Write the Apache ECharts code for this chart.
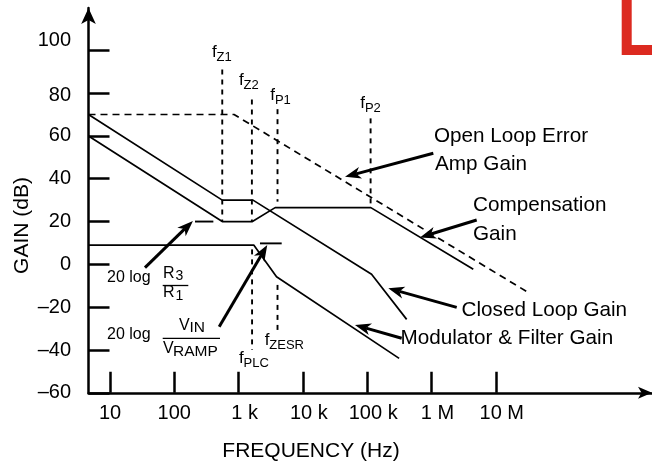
<!DOCTYPE html>
<html><head><meta charset="utf-8">
<script src="https://cdn.jsdelivr.net/npm/echarts@6/dist/echarts.min.js"></script>
<style>html,body{margin:0;padding:0;background:#fff}#c{width:652px;height:464px}</style>
</head><body><div id="c"></div>
<script>
// ---- axis ticks ----
const xTicks = [10, 100, 1e3, 1e4, 1e5, 1e6, 1e7];
const xTickLabels = ['10', '100', '1 k', '10 k', '100 k', '1 M', '10 M'];
const yTicks = [-60, -40, -20, 0, 20, 40, 60, 80, 100];
const yTickLabels = ['\u201360', '\u201340', '\u201320', '0', '20', '40', '60', '80', '100'];

// ---- curves (frequency in Hz, gain in dB) ----
const compFreq = [4.63, 557, 1640, 3700, 114000, 4470000];
const compGain = [60, 20, 20, 26.5, 26.5, -2.3];
const closedFreq = [4.63, 557, 1675, 117000, 411000];
const closedGain = [70, 30, 30, -4.6, -25.7];
const modFreq = [4.63, 1720, 3890, 314000];
const modGain = [9, 9, -5.8, -43.9];
const openFreq = [4.63, 850, 33900000];
const openGain = [70, 70, -13.6];
// short level markers
const r3r1Freq = [210, 405];
const r3r1Gain = [20, 20];
const vinFreq = [2150, 4680];
const vinGain = [9.8, 9.8];
// corner-frequency markers: [freq, topGain, bottomGain]
const markerNames = ['Z1', 'Z2', 'P1', 'P2', 'PLC', 'ZESR'];
const markerFreq = [557, 1610, 4030, 113000, 1620, 4030];
const markerTop = [91, 77, 72.5, 68.2, 7, -9.6];
const markerBottom = [20, 20, 29.3, 28.5, -40, -30.7];
// annotation arrows: tail -> tip
const arrowTailFreq = [35, 499, 1.067e6, 5.05e6, 2.47e6, 3.44e5];
const arrowTailGain = [-1.5, -29.1, 51.9, 20.7, -20.1, -34.5];
const arrowTipFreq = [195, 2790, 45200, 6.62e5, 2.13e5, 6.46e4];
const arrowTipGain = [20.3, 9, 40.9, 12.6, -11.2, -28.3];

const FONT = '"Liberation Sans", Arial, Helvetica, sans-serif';
const zip = (a, b) => a.map((v, i) => [v, b[i]]);

const chart = echarts.init(document.getElementById('c'), null, {renderer: 'canvas'});

function line(name, data, extra) {
  return Object.assign({
    name, type: 'line', data, symbol: 'none', silent: true,
    lineStyle: {color: '#000', width: 1.7}, z: 3, clip: false
  }, extra || {});
}

const series = [
  line('Compensation Gain', zip(compFreq, compGain)),
  line('Closed Loop Gain', zip(closedFreq, closedGain)),
  line('Modulator & Filter Gain', zip(modFreq, modGain)),
  line('Open Loop Error Amp Gain', zip(openFreq, openGain), {lineStyle: {color: '#000', width: 1.7, type: [7, 5]}}),
  line('R3/R1', zip(r3r1Freq, r3r1Gain), {lineStyle: {color: '#000', width: 1.9}}),
  line('VIN/VRAMP', zip(vinFreq, vinGain), {lineStyle: {color: '#000', width: 1.9}})
];
markerNames.forEach((n, i) => {
  series.push(line('f' + n, [[markerFreq[i], markerTop[i]], [markerFreq[i], markerBottom[i]]],
    {lineStyle: {color: '#000', width: 1.9, type: [5, 5]}}));
});

const option = {
  animation: false,
  backgroundColor: '#fff',
  grid: {left: 88.5, right: 0, top: 8, bottom: 71.2},
  xAxis: {
    type: 'log', logBase: 10, min: 4.63, max: 2.69e9,
    axisLine: {show: true, onZero: false, symbol: ['none', 'arrow'], symbolSize: [9, 14],
      lineStyle: {color: '#000', width: 2.5}},
    axisTick: {show: true, inside: true, length: 21, customValues: xTicks,
      lineStyle: {color: '#000', width: 2.5}},
    minorTick: {show: false},
    axisLabel: {
      customValues: xTicks, margin: 11, fontSize: 20, color: '#000', fontFamily: FONT,
      formatter: function (v) {
        const i = Math.round(Math.log10(v)) - 1;
        const s = xTickLabels[i] || '';
        return s.indexOf(' ') >= 0 ? '{k|' + s + '}' : '{n|' + s + '}';
      },
      rich: {
        k: {fontSize: 20, fontFamily: FONT, color: '#000', padding: [0, 0, 0, 12]},
        n: {fontSize: 20, fontFamily: FONT, color: '#000'}
      }
    },
    splitLine: {show: false}
  },
  yAxis: {
    type: 'value', min: -60, max: 119.76,
    axisLine: {show: true, onZero: false, symbol: ['none', 'arrow'], symbolSize: [11, 16],
      lineStyle: {color: '#000', width: 2.5}},
    axisTick: {show: true, inside: true, length: 21, customValues: yTicks,
      lineStyle: {color: '#000', width: 2.5}},
    axisLabel: {
      customValues: yTicks, margin: 17.5, fontSize: 20, color: '#000', fontFamily: FONT,
      formatter: function (v) {
        const i = yTicks.indexOf(Math.round(v));
        const s = yTickLabels[i];
        if (s === '100') return '{u|' + s + '}';
        if (s === '80') return '{d|' + s + '}';
        return '{n|' + s + '}';
      },
      rich: {
        u: {fontSize: 20, fontFamily: FONT, color: '#000', padding: [0, 0, 20, 0]},
        d: {fontSize: 20, fontFamily: FONT, color: '#000', padding: [4, 0, 0, 0]},
        n: {fontSize: 20, fontFamily: FONT, color: '#000'}
      }
    },
    splitLine: {show: false}
  },
  series
};
chart.setOption(option);

// ---------- annotations ----------
const px = (f, g) => chart.convertToPixel({xAxisIndex: 0, yAxisIndex: 0}, [f, g]);
function txt(x, baseline, str, size, extra) {
  return Object.assign({
    type: 'text', x: x, y: baseline - 0.3465 * size, z: 10,
    style: {text: str, fontSize: size, fontFamily: FONT, fill: '#000', align: 'left', verticalAlign: 'middle'}
  }, extra || {});
}
function arrow(i) {
  const a = px(arrowTailFreq[i], arrowTailGain[i]);
  const b = px(arrowTipFreq[i], arrowTipGain[i]);
  const dx = b[0] - a[0], dy = b[1] - a[1];
  const len = Math.hypot(dx, dy), ux = dx / len, uy = dy / len, nx = -uy, ny = ux;
  const L = 16, W = 6;
  const base = [b[0] - ux * L, b[1] - uy * L];
  const notch = [b[0] - ux * L * 0.72, b[1] - uy * L * 0.72];
  return [
    {type: 'line', z: 10, shape: {x1: a[0], y1: a[1], x2: notch[0], y2: notch[1]},
      style: {stroke: '#000', lineWidth: 3}},
    {type: 'polygon', z: 10, shape: {points: [b, [base[0] + nx * W, base[1] + ny * W], notch, [base[0] - nx * W, base[1] - ny * W]]},
      style: {fill: '#000'}}
  ];
}

const g = [];
for (let i = 0; i < arrowTailFreq.length; i++) g.push(...arrow(i));

// big annotations
const A = 20.7;
g.push(txt(434, 143.3, 'Open Loop Error', A));
g.push(txt(435, 171.7, 'Amp Gain', A));
g.push(txt(473, 212.3, 'Compensation', A));
g.push(txt(473, 241.7, 'Gain', A));
g.push(txt(461.5, 317.3, 'Closed Loop Gain', A));
g.push(txt(400.5, 345, 'Modulator & Filter Gain', A));

// corner frequency labels: f + subscript
const fLab = [
  [212, 58.3, 'Z1'], [239, 86.7, 'Z2'], [270.3, 101.7, 'P1'], [360.3, 109.3, 'P2'],
  [239, 364.5, 'PLC'], [264.7, 346.7, 'ZESR']
];
fLab.forEach(([x, bl, s]) => {
  g.push(txt(x, bl, 'f', 17));
  g.push(txt(x + 4.6, bl + 3.2, s, 13));
});

// 20 log R3/R1
g.push(txt(107, 283.3, '20 log', 16));
g.push(txt(163, 279, 'R', 16));
g.push(txt(175.5, 281.2, '3', 14));
g.push({type: 'line', z: 10, shape: {x1: 162.7, y1: 285.5, x2: 188.3, y2: 285.5}, style: {stroke: '#000', lineWidth: 1.3}});
g.push(txt(163, 298.3, 'R', 16));
g.push(txt(175.5, 300.5, '1', 14));
// 20 log VIN/VRAMP
g.push(txt(107, 340, '20 log', 16));
g.push(txt(179, 331, 'V', 16));
g.push(txt(189.5, 333.5, 'IN', 15.5));
g.push({type: 'line', z: 10, shape: {x1: 162.7, y1: 338.3, x2: 220, y2: 338.3}, style: {stroke: '#000', lineWidth: 1.3}});
g.push(txt(163, 354, 'V', 16));
g.push(txt(173, 356.7, 'RAMP', 15.5));

// axis names
g.push({type: 'text', x: 22, y: 225.5, rotation: Math.PI / 2, z: 10,
  style: {text: 'GAIN (dB)', fontSize: 21, fontFamily: FONT, fill: '#000', align: 'center', verticalAlign: 'middle'}});
g.push({type: 'text', x: 311, y: 450.8, z: 10,
  style: {text: 'FREQUENCY (Hz)', fontSize: 21, fontFamily: FONT, fill: '#000', align: 'center', verticalAlign: 'middle'}});

// red frame corner at top right
g.push({type: 'rect', z: 10, shape: {x: 626.7, y: -20, width: 60, height: 70},
  style: {fill: 'none', stroke: '#dc2a20', lineWidth: 10}});

chart.setOption({graphic: {elements: g}});
</script>
</body></html>
